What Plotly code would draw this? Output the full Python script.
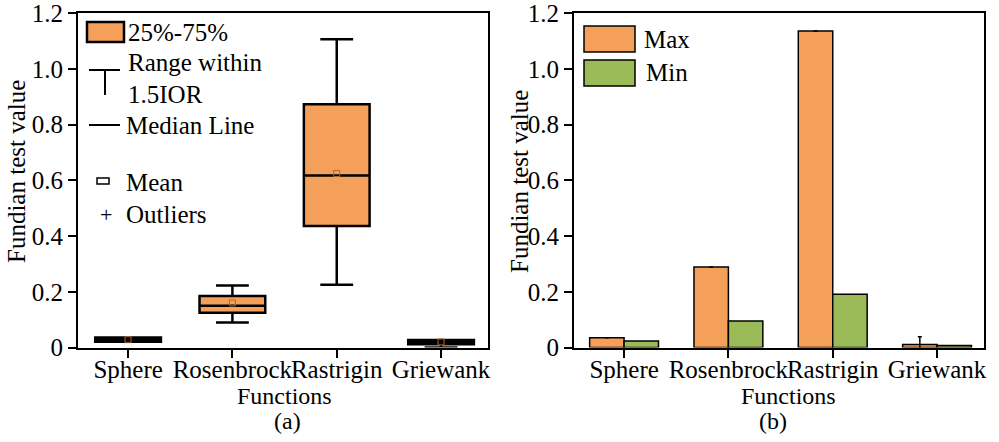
import plotly.graph_objects as go

# ---------------- data ----------------
functions = ["Sphere", "Rosenbrock", "Rastrigin", "Griewank"]
positions = [0, 1, 2, 3]
q1 = [0.021, 0.125, 0.436, 0.012]
median = [0.028, 0.150, 0.617, 0.020]
q3 = [0.036, 0.185, 0.873, 0.027]
lower_fence = [0.021, 0.090, 0.225, 0.000]
upper_fence = [0.036, 0.222, 1.106, 0.027]
mean = [0.028, 0.160, 0.624, 0.020]

max_vals = [0.035, 0.289, 1.135, 0.011]
min_vals = [0.023, 0.095, 0.191, 0.007]
max_err = [None, None, None, 0.028]

y_tickvals = [0, 0.2, 0.4, 0.6, 0.8, 1.0, 1.2]
y_ticktext = ["0", "0.2", "0.4", "0.6", "0.8", "1.0", "1.2"]

ORANGE = "#F5A05A"
GREEN = "#9BBB59"
FONT = "Liberation Serif, Times New Roman, serif"
FS = 25
W, H = 999, 442

fig = go.Figure()

fig.add_trace(go.Box(
    x=positions, q1=q1, median=median, q3=q3,
    lowerfence=lower_fence, upperfence=upper_fence,
    width=0.63, whiskerwidth=0.5,
    fillcolor=ORANGE, line=dict(color="black", width=2.5),
    boxpoints=False, showlegend=False,
    xaxis="x", yaxis="y",
))
fig.add_trace(go.Scatter(
    x=positions, y=mean, mode="markers",
    marker=dict(symbol="square-open", size=6, color="#B5652C", line=dict(width=1)),
    showlegend=False, xaxis="x", yaxis="y",
))

off = 0.165
fig.add_trace(go.Bar(
    x=[p - off for p in positions], y=max_vals, width=0.33,
    marker=dict(color=ORANGE, line=dict(color="black", width=1.5)),
    error_y=dict(type="data", array=max_err, color="black", thickness=1.5, width=2, symmetric=True),
    showlegend=False, xaxis="x2", yaxis="y2",
))
fig.add_trace(go.Bar(
    x=[p + off for p in positions], y=min_vals, width=0.33,
    marker=dict(color=GREEN, line=dict(color="black", width=1.5)),
    showlegend=False, xaxis="x2", yaxis="y2",
))

axis_common = dict(
    showline=True, linecolor="black", linewidth=2, mirror=True,
    ticks="outside", ticklen=8, tickwidth=2, tickcolor="black",
    showgrid=False, zeroline=False, ticklabeloverflow="allow",
    automargin=False,
    tickfont=dict(family=FONT, size=FS, color="black"),
)
xcommon = dict(axis_common, range=[-0.48, 3.45], tickvals=positions, ticktext=functions,
               tickangle=0, ticklabelstandoff=-10)
ycommon = dict(axis_common, range=[0, 1.2], tickvals=y_tickvals, ticktext=y_ticktext)

ydom = [1 - 347.5 / H, 1 - 13 / H]
fig.update_layout(
    width=W, height=H, autosize=False,
    margin=dict(l=0, r=0, t=0, b=0, pad=0),
    paper_bgcolor="white", plot_bgcolor="white",
    font=dict(family=FONT, size=FS, color="black"),
    xaxis=dict(xcommon, domain=[78 / W, 488 / W], anchor="y"),
    yaxis=dict(ycommon, domain=ydom, anchor="x"),
    xaxis2=dict(xcommon, domain=[574 / W, 984 / W], anchor="y2"),
    yaxis2=dict(ycommon, domain=ydom, anchor="x2"),
    barmode="overlay", showlegend=False,
)

def px(x):
    return x / W

def py(y):
    return 1 - y / H

shapes = []
annots = []

def text(x, y, s, anchor="left", size=FS, angle=0):
    annots.append(dict(x=px(x), y=py(y), xref="paper", yref="paper", text=s,
                       showarrow=False, xanchor=anchor, yanchor="middle",
                       textangle=angle, borderpad=0,
                       font=dict(family=FONT, size=size, color="black")))

def line(x0, y0, x1, y1, w=2):
    shapes.append(dict(type="line", xref="paper", yref="paper",
                       x0=px(x0), y0=py(y0), x1=px(x1), y1=py(y1),
                       line=dict(color="black", width=w)))

def rect(x0, y0, x1, y1, fill, w=2.5, color="black"):
    shapes.append(dict(type="rect", xref="paper", yref="paper",
                       x0=px(x0), y0=py(y0), x1=px(x1), y1=py(y1),
                       fillcolor=fill, line=dict(color=color, width=w)))

# left legend
rect(87, 22, 124, 42, ORANGE, 2.5)
text(127, 33, "25%-75%")
line(89, 70, 120, 70)
line(105, 70, 105, 95)
text(127, 63, "Range within")
text(127, 94, "1.5IOR")
line(89, 125, 120, 125)
text(125, 125, "Median Line")
rect(97, 178, 109, 184, "white", 1.5)
text(125, 182, "Mean")
text(106, 214, "+", anchor="center", size=22)
text(125, 214, "Outliers")

# right legend
rect(584, 26, 635, 52, ORANGE, 1.5)
rect(584, 60, 635, 86, GREEN, 1.5)
text(643, 39, "Max")
text(645, 73, "Min")

# axis titles and captions
text(17, 172, "Fundian test value", anchor="center", angle=-90)
text(519, 182, "Fundian test value", anchor="center", angle=-90)
text(284, 396, "Functions", anchor="center", size=24)
text(287, 421, "(a)", anchor="center", size=24)
text(788, 396, "Functions", anchor="center", size=24)
text(773, 421, "(b)", anchor="center", size=24)

fig.update_layout(shapes=shapes, annotations=annots)

fig.write_html("out.html", config={"displayModeBar": False},
               post_script="document.body.style.margin='0px';document.body.style.overflow='hidden';")
